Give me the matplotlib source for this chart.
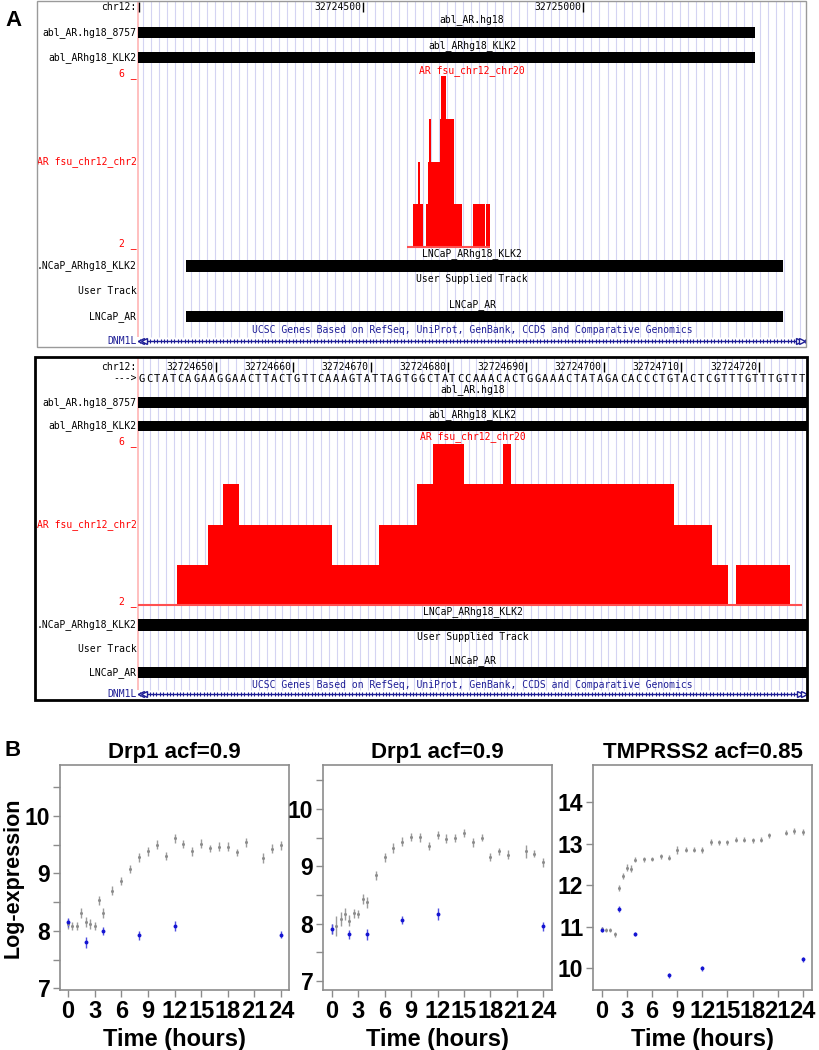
import matplotlib
matplotlib.use('Agg')
import matplotlib.pyplot as plt
from matplotlib.patches import Rectangle
from matplotlib.transforms import blended_transform_factory as blend, offset_copy
import numpy as np

W, H = 819, 1050
fig = plt.figure(figsize=(W / 100, H / 100), dpi=100)
fig.patch.set_facecolor('white')

MONO = ['DejaVu Sans Mono']
SANS = ['Liberation Sans', 'DejaVu Sans']

# ---------------- Data: genome browser ----------------
chrom = 'chr12:'
top_view = (32723989, 32725507)
top_ruler = [32724500, 32725000]
bot_view = (32724640, 32724726.2)
bot_ruler = [32724650, 32724660, 32724670, 32724680, 32724690, 32724700, 32724710, 32724720]
sequence = "GCTATCAGAAGGAACTTACTGTTCAAAGTATTAGTGGCTATCCAAACACTGGAAACTATAGACACCCTGTACTCGTTTGTTTGTTT"
seq_start = 32724640

bed_titles = ['abl_AR.hg18', 'abl_ARhg18_KLK2', 'LNCaP_ARhg18_KLK2', 'LNCaP_AR']
bed_short = ['abl_AR.hg18_8757', 'abl_ARhg18_KLK2', '.NCaP_ARhg18_KLK2', 'LNCaP_AR']
bed_start = [32723900, 32723900, 32724098, 32724098]
bed_end = [32725391, 32725391, 32725455, 32725455]

wig_title = 'AR fsu_chr12_chr20'
wig_short = 'AR fsu_chr12_chr2'
wig_range = (2, 6)
top_wig_edges = [32724600, 32724614, 32724625, 32724630, 32724637, 32724644, 32724648,
                 32724650, 32724655, 32724675, 32724678, 32724689, 32724707, 32724725,
                 32724750, 32724778, 32724780, 32724789]
top_wig_vals = [2, 3, 4, 3, 2, 3, 4, 5, 4, 5, 6, 5, 3, 2, 3, 2, 3]
bot_wig_edges = [32724640, 32724645, 32724649, 32724651, 32724653, 32724665, 32724671,
                 32724676, 32724678, 32724682, 32724687, 32724688, 32724709, 32724714,
                 32724716, 32724717, 32724724, 32724725.5]
bot_wig_vals = [2, 3, 4, 5, 4, 3, 4, 5, 6, 5, 6, 5, 4, 3, 2, 3, 2]

user_title = 'User Supplied Track'
user_short = 'User Track'
gene_title = 'UCSC Genes Based on RefSeq, UniProt, GenBank, CCDS and Comparative Genomics'
gene_name = 'DNM1L'
gene_span = (32723950, 32725600)

# ---------------- Data: expression time courses ----------------
time_gray = [0, 0.5, 1, 1.5, 2, 2.5, 3, 3.5, 4, 5, 6, 7, 8, 9, 10, 11, 12, 13, 14, 15,
             16, 17, 18, 19, 20, 22, 23, 24]
time_blue = [0, 2, 4, 8, 12, 24]

drp1a_gray = [8.12, 8.09, 8.09, 8.31, 8.15, 8.12, 8.09, 8.53, 8.31, 8.70, 8.87, 9.07, 9.28,
              9.39, 9.50, 9.31, 9.61, 9.52, 9.39, 9.52, 9.44, 9.47, 9.47, 9.37, 9.54, 9.27,
              9.43, 9.49]
drp1a_gray_err = [0.08, 0.07, 0.07, 0.08, 0.09, 0.08, 0.07, 0.08, 0.08, 0.08, 0.07, 0.07,
                  0.08, 0.08, 0.08, 0.07, 0.08, 0.07, 0.08, 0.08, 0.06, 0.07, 0.07, 0.06,
                  0.08, 0.09, 0.08, 0.08]
drp1a_blue = [8.15, 7.80, 8.00, 7.92, 8.08, 7.93]
drp1a_blue_err = [0.08, 0.10, 0.07, 0.08, 0.09, 0.06]

drp1b_gray = [7.90, 7.96, 8.08, 8.17, 8.05, 8.18, 8.17, 8.43, 8.37, 8.84, 9.16, 9.32, 9.43,
              9.52, 9.51, 9.36, 9.55, 9.48, 9.50, 9.59, 9.42, 9.50, 9.16, 9.26, 9.20, 9.26,
              9.22, 9.07]
drp1b_gray_err = [0.09, 0.18, 0.12, 0.10, 0.10, 0.08, 0.07, 0.09, 0.09, 0.07, 0.08, 0.09,
                  0.08, 0.07, 0.08, 0.07, 0.07, 0.08, 0.07, 0.07, 0.08, 0.06, 0.07, 0.06,
                  0.08, 0.11, 0.06, 0.08]
drp1b_blue = [7.90, 7.81, 7.81, 8.07, 8.17, 7.95]
drp1b_blue_err = [0.09, 0.08, 0.09, 0.07, 0.10, 0.08]

tmprss2_gray = [10.94, 10.92, 10.92, 10.82, 11.94, 12.22, 12.42, 12.40, 12.61, 12.62, 12.64,
                12.70, 12.66, 12.85, 12.86, 12.86, 12.85, 13.05, 13.03, 13.03, 13.10, 13.10,
                13.08, 13.10, 13.21, 13.27, 13.31, 13.29]
tmprss2_gray_err = [0.05, 0.05, 0.05, 0.06, 0.07, 0.07, 0.08, 0.08, 0.06, 0.06, 0.05, 0.06,
                    0.06, 0.09, 0.07, 0.07, 0.07, 0.07, 0.06, 0.06, 0.06, 0.06, 0.07, 0.06,
                    0.06, 0.07, 0.07, 0.07]
tmprss2_blue = [10.93, 11.43, 10.82, 9.82, 10.00, 10.21]
tmprss2_blue_err = [0.06, 0.07, 0.05, 0.06, 0.06, 0.06]

titles = ['Drp1 acf=0.9', 'Drp1 acf=0.9', 'TMPRSS2 acf=0.85']
xtick_vals = [0, 3, 6, 9, 12, 15, 18, 21, 24]


def pbox(x0, y0, x1, y1):
    return [x0 / W, 1 - y1 / H, (x1 - x0) / W, (y1 - y0) / H]


GRID_C = '#d4d4f2'
RED = '#ff0000'
NAVY = '#1e1e96'


def draw_browser(view, panel, rows, ruler, grid_step, wig_edges, wig_vals,
                 border_color, border_lw, seq=None):
    x0, y0, x1, y1 = panel
    dx0 = 138
    ax = fig.add_axes(pbox(dx0, y0, x1, y1))
    ax.set_xlim(*view)
    ax.set_ylim(y1, y0)
    ax.axis('off')
    # vertical guide lines
    gx = np.arange(view[0] + grid_step * 0.6, view[1], grid_step)
    ax.vlines(gx, y0, rows['gene_line'] - 4, color=GRID_C, lw=0.8, zorder=0)
    ax.vlines(view[0], y0, rows['gene_line'] - 4, color='#ffb4b4', lw=1.2, zorder=1,
              clip_on=False)
    lab_tr = blend(fig.transFigure, ax.transData)
    lx = 136.5 / W
    cx = 0.5
    ctr = blend(ax.transAxes, ax.transData)
    # ruler
    ax.text(lx, rows['ruler'], chrom, transform=lab_tr, ha='right', va='center',
            fontsize=7, family=MONO)
    tr_off = offset_copy(ax.transData, fig=fig, x=-2, y=0, units='dots')
    for t in ruler:
        ax.text(t, rows['ruler'], str(t), transform=tr_off, ha='right', va='center',
                fontsize=7, family=MONO)
        ax.vlines(t, rows['ruler'] - 5, rows['ruler'] + 5, color='black', lw=1)
    if seq is None:
        ax.vlines(view[0] + 2, rows['ruler'] - 5, rows['ruler'] + 5, color='black', lw=1)
    else:
        ax.text(lx, rows['seq'], '--->', transform=lab_tr, ha='right', va='center',
                fontsize=7, family=MONO)
        for i, ch in enumerate(seq):
            ax.text(seq_start + i + 0.5, rows['seq'], ch, ha='center', va='center',
                    fontsize=7.6, family=MONO)
    # bed tracks
    for k in range(4):
        r = rows['bed'][k]
        ax.text(cx, r[0], bed_titles[k], transform=ctr, ha='center', va='center',
                fontsize=7, family=MONO)
        ax.add_patch(Rectangle((bed_start[k], r[1]), bed_end[k] - bed_start[k], r[2] - r[1],
                               color='black', lw=0))
        ax.text(lx, (r[1] + r[2]) / 2, bed_short[k], transform=lab_tr, ha='right',
                va='center', fontsize=7, family=MONO)
    # user track
    ax.text(cx, rows['user'][0], user_title, transform=ctr, ha='center', va='center',
            fontsize=7, family=MONO)
    ax.text(lx, rows['user'][1], user_short, transform=lab_tr, ha='right', va='center',
            fontsize=7, family=MONO)
    # wiggle
    ax.text(cx, rows['wig_title'], wig_title, transform=ctr, ha='center', va='center',
            fontsize=7, family=MONO, color=RED)
    w_top, w_bot = rows['wig']
    ax.text(lx, (w_top + w_bot) / 2, wig_short, transform=lab_tr, ha='right', va='center',
            fontsize=7, family=MONO, color=RED)
    ax.text(lx, w_top - 2, '%d _' % wig_range[1], transform=lab_tr, ha='right',
            va='center', fontsize=7, family=MONO, color=RED)
    ax.text(lx, w_bot - 3, '%d _' % wig_range[0], transform=lab_tr, ha='right',
            va='center', fontsize=7, family=MONO, color=RED)
    axw = fig.add_axes(pbox(dx0, w_top, x1, w_bot))
    axw.set_xlim(*view)
    axw.set_ylim(*wig_range)
    axw.axis('off')
    axw.patch.set_alpha(0)
    axw.stairs(wig_vals, wig_edges, baseline=wig_range[0], fill=True, color=RED, lw=0)
    axw.hlines(wig_range[0], wig_edges[0], wig_edges[-1], color='#ff5050', lw=1.5,
               clip_on=False)
    # gene
    ax.text(cx, rows['gene_title'], gene_title, transform=ctr, ha='center', va='center',
            fontsize=7, family=MONO, color=NAVY)
    gy = rows['gene_line']
    ax.hlines(gy, gene_span[0], gene_span[1], color=NAVY, lw=1)
    mk = np.arange(view[0] + grid_step * 0.2, view[1], grid_step / 2.3)
    ax.plot(mk, np.full(len(mk), gy), ls='none', marker='|', ms=3.5, mew=0.8, color=NAVY)
    ax.plot([view[0] + grid_step * 0.35, view[0] + grid_step * 0.8], [gy, gy], ls='none',
            marker='<', ms=4.5, mfc='white', mec=NAVY, mew=1)
    ax.plot([view[1] - grid_step * 0.9, view[1] - grid_step * 0.45], [gy, gy], ls='none',
            marker='>', ms=4.5, mfc='white', mec=NAVY, mew=1)
    ax.text(lx, gy, gene_name, transform=lab_tr, ha='right', va='center',
            fontsize=7, family=MONO, color=NAVY)
    # border
    fig.add_artist(Rectangle((x0 / W, 1 - y1 / H), (x1 - x0) / W, (y1 - y0) / H,
                             fill=False, ec=border_color, lw=border_lw,
                             transform=fig.transFigure))


top_rows = dict(ruler=7, bed=[(20, 27, 38), (46, 52, 63), (254, 260, 272), (305, 311, 322)],
                user=(279, 291), wig_title=71, wig=(76, 247), gene_title=330, gene_line=341)
draw_browser(top_view, (37, 1, 806, 347), top_rows, top_ruler,
             8 / (667 / (top_view[1] - top_view[0])), top_wig_edges, top_wig_vals,
             '#9a9a9a', 1.0)

bot_rows = dict(ruler=367, seq=379,
                bed=[(390, 397, 408), (415, 421, 431), (612, 619, 631), (661, 667, 678)],
                user=(637, 649), wig_title=437, wig=(444, 605), gene_title=685, gene_line=694)
draw_browser(bot_view, (35, 357, 807, 700), bot_rows, bot_ruler, 1.0,
             bot_wig_edges, bot_wig_vals, 'black', 2.0, seq=sequence)

fig.text(5 / W, 1 - 21 / H, 'A', fontsize=16, fontweight='bold', family=SANS,
         ha='left', va='center')
fig.text(4 / W, 1 - 750 / H, 'B', fontsize=16, fontweight='bold', family=SANS,
         ha='left', va='center')

# ---------------- Panel B ----------------
panels = [
    dict(px=(60, 765, 289, 990), xlim=(-0.9, 24.9), ylim=(6.97, 10.89),
         major=[7, 8, 9, 10], minor=[7.5, 8.5, 9.5, 10.5],
         g=drp1a_gray, ge=drp1a_gray_err, b=drp1a_blue, be=drp1a_blue_err),
    dict(px=(323, 765, 552, 990), xlim=(-1.0, 25.0), ylim=(6.84, 10.77),
         major=[7, 8, 9, 10], minor=[7.5, 8.5, 9.5, 10.5],
         g=drp1b_gray, ge=drp1b_gray_err, b=drp1b_blue, be=drp1b_blue_err),
    dict(px=(593, 765, 812, 990), xlim=(-1.07, 25.1), ylim=(9.47, 14.9),
         major=[10, 11, 12, 13, 14], minor=[],
         g=tmprss2_gray, ge=tmprss2_gray_err, b=tmprss2_blue, be=tmprss2_blue_err),
]

for i, p in enumerate(panels):
    ax = fig.add_axes(pbox(*p['px']))
    ax.errorbar(time_gray, p['g'], yerr=p['ge'], fmt='o', ms=2.2, color='#8c8c8c',
                ecolor='#9c9c9c', elinewidth=1.0, capsize=0, mew=0)
    ax.errorbar(time_blue, p['b'], yerr=p['be'], fmt='o', ms=2.8, color='#1414d2',
                ecolor='#5050e0', elinewidth=1.0, capsize=0, mew=0)
    ax.set_xlim(*p['xlim'])
    ax.set_ylim(*p['ylim'])
    ax.set_xticks(xtick_vals)
    ax.set_xticklabels([str(v) for v in xtick_vals])
    ax.set_yticks(p['major'])
    ax.set_yticklabels([str(v) for v in p['major']])
    ax.set_yticks(p['minor'], minor=True)
    for s in ax.spines.values():
        s.set_color('#8c8c8c')
        s.set_linewidth(1.2)
    ax.tick_params(which='both', direction='out', length=5, width=1, color='#8c8c8c',
                   labelsize=17, pad=2)
    ax.tick_params(axis='y', labelsize=16.5)
    for lab in ax.get_xticklabels() + ax.get_yticklabels():
        lab.set_fontweight('bold')
        lab.set_family(SANS)
    ax.set_title(titles[i], fontsize=16, fontweight='bold', family=SANS, pad=5)
    ax.set_xlabel('Time (hours)', fontsize=17, fontweight='bold', family=SANS, labelpad=4)
    if i == 0:
        ax.set_ylabel('Log-expression', fontsize=15.5, fontweight='bold', family=SANS)
        ax.yaxis.set_label_coords(-36 / 229, 0.5)

fig.savefig('out.png', dpi=100, facecolor='white')
